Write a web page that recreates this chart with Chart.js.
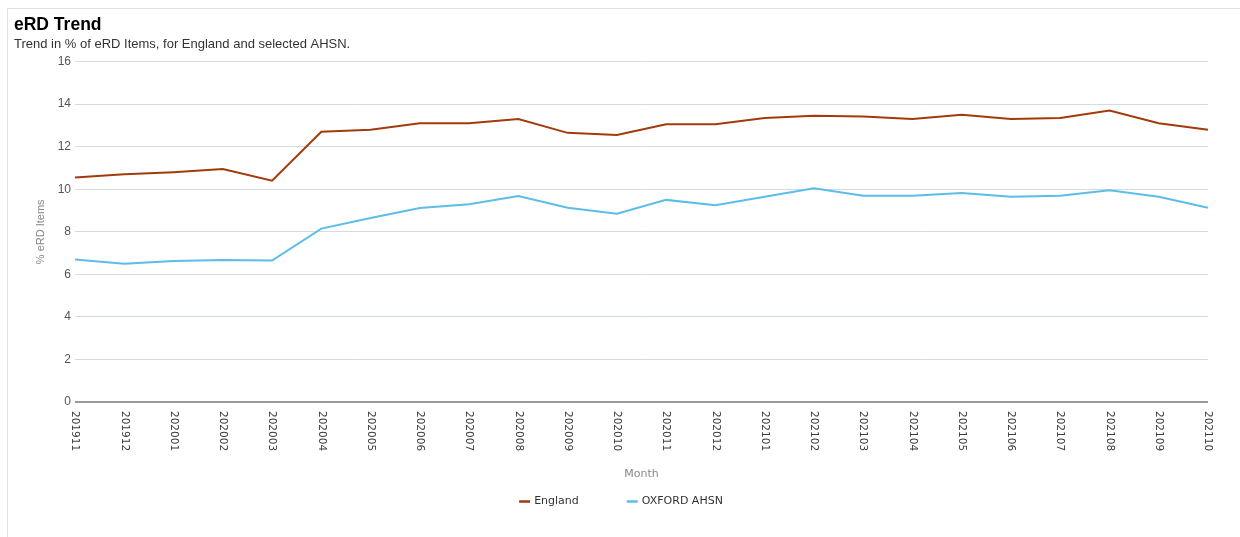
<!DOCTYPE html>
<html>
<head>
<meta charset="utf-8">
<script src="https://cdn.jsdelivr.net/npm/chart.js@4/dist/chart.umd.min.js"></script>
<style>
  html, body { margin: 0; padding: 0; background: #fff; }
  body { width: 1240px; height: 537px; overflow: hidden; position: relative; }
  #frame { position: absolute; left: 7px; top: 8px; width: 1233px; height: 529px;
           border-top: 1px solid #dde3ea; border-left: 1px solid #dde3ea; box-sizing: border-box; }
  #wrap { position: absolute; left: 0px; top: 0px; width: 1232px; height: 528px; }
</style>
</head>
<body>
<div id="frame"><div id="wrap"><canvas id="c"></canvas></div></div>
<script>
const months = ["201911","201912","202001","202002","202003","202004","202005","202006","202007","202008","202009","202010","202011","202012","202101","202102","202103","202104","202105","202106","202107","202108","202109","202110"];
const englandValues = [10.55,10.7,10.8,10.95,10.4,12.7,12.8,13.1,13.1,13.3,12.65,12.55,13.05,13.05,13.35,13.45,13.42,13.3,13.5,13.3,13.35,13.7,13.1,12.8];
const oxfordValues = [6.7,6.5,6.63,6.68,6.65,8.15,8.65,9.12,9.3,9.68,9.13,8.85,9.5,9.25,9.65,10.05,9.7,9.7,9.82,9.65,9.7,9.95,9.65,9.13];
const seriesNames = ["England","OXFORD AHSN"];
const seriesColors = ["#a23a0b","#5bbde8"];
const yTicks = [0,2,4,6,8,10,12,14,16];

const LABEL_FONT = '10.5px "DejaVu Sans", Verdana, sans-serif';
const LEGEND_FONT = '11px "DejaVu Sans", Tahoma, sans-serif';

const clockwiseLabels = {
  id: 'clockwiseLabels',
  afterDraw(chart) {
    const x = chart.scales.x;
    const ctx = chart.ctx;
    ctx.save();
    ctx.fillStyle = '#3c3c3c';
    ctx.font = LABEL_FONT;
    ctx.textAlign = 'left';
    ctx.textBaseline = 'middle';
    x.ticks.forEach((t, i) => {
      const px = x.getPixelForTick(i);
      ctx.save();
      ctx.translate(px, x.top + 9);
      ctx.rotate(Math.PI / 2);
      ctx.fillText(months[i], 0, 0);
      ctx.restore();
    });
    ctx.restore();
  }
};

const bottomLegend = {
  id: 'bottomLegend',
  afterDraw(chart) {
    const ctx = chart.ctx;
    ctx.save();
    ctx.font = LEGEND_FONT;
    ctx.textBaseline = 'middle';
    ctx.textAlign = 'left';
    const markW = 11, gapMark = 4, gapItem = 48;
    const items = chart.data.datasets.map(d => ({ text: d.label, color: d.borderColor, w: ctx.measureText(d.label).width }));
    let total = 0;
    items.forEach((it, i) => { total += markW + gapMark + it.w + (i < items.length - 1 ? gapItem : 0); });
    let x = chart.width / 2 - total / 2 - 3;
    const y = chart.height - 36;
    items.forEach(it => {
      ctx.strokeStyle = it.color;
      ctx.lineWidth = 2.5;
      ctx.beginPath();
      ctx.moveTo(x, y + 0.5);
      ctx.lineTo(x + markW, y + 0.5);
      ctx.stroke();
      x += markW + gapMark;
      ctx.fillStyle = '#333';
      ctx.fillText(it.text, x, y);
      x += it.w + gapItem;
    });
    ctx.restore();
  }
};

new Chart(document.getElementById('c'), {
  type: 'line',
  data: {
    labels: months,
    datasets: [
      { label: seriesNames[0], data: englandValues, borderColor: seriesColors[0], backgroundColor: seriesColors[0],
        borderWidth: 2, pointRadius: 0, pointHoverRadius: 0, tension: 0, fill: false },
      { label: seriesNames[1], data: oxfordValues, borderColor: seriesColors[1], backgroundColor: seriesColors[1],
        borderWidth: 2, pointRadius: 0, pointHoverRadius: 0, tension: 0, fill: false }
    ]
  },
  options: {
    responsive: true,
    maintainAspectRatio: false,
    animation: false,
    layout: { padding: { left: 6, right: 32, top: 5, bottom: 50 } },
    plugins: {
      title: { display: true, text: 'eRD Trend', align: 'start', color: '#000',
               font: { family: 'Arial, "Liberation Sans", sans-serif', size: 17.5, weight: 'bold' },
               padding: { top: 1, bottom: 0 } },
      subtitle: { display: true, text: 'Trend in % of eRD Items, for England and selected AHSN.', align: 'start', color: '#333',
               font: { family: 'Arial, "Liberation Sans", sans-serif', size: 13 },
               padding: { top: 1, bottom: 9 } },
      legend: { display: false },
      tooltip: { enabled: false }
    },
    scales: {
      x: {
        offset: false,
        grid: { display: false },
        border: { display: false },
        ticks: { color: 'transparent', minRotation: 90, maxRotation: 90, autoSkip: false,
                 font: { size: 10.5, family: '"DejaVu Sans", Verdana, sans-serif' }, padding: 8 },
        title: { display: true, text: 'Month', color: '#888',
                 font: { family: '"DejaVu Sans", Tahoma, sans-serif', size: 11 }, padding: { top: 10, bottom: 6 } },
        afterFit(s) { s.height = 85; }
      },
      y: {
        min: 0, max: 16,
        afterBuildTicks(s) { s.ticks = yTicks.map(v => ({ value: v })); },
        grid: { drawTicks: false,
                color: c => (c.tick && c.tick.value === 0) ? '#9a9a9a' : '#d3dbe3',
                lineWidth: c => (c.tick && c.tick.value === 0) ? 2 : 1 },
        border: { display: false },
        ticks: { color: '#555', padding: 4, font: { family: 'Arial, "Liberation Sans", sans-serif', size: 12 } },
        title: { display: true, text: '% eRD Items', color: '#888',
                 font: { family: 'Arial, "Liberation Sans", sans-serif', size: 11 }, padding: { top: 20, bottom: 0 } },
        afterFit(s) { s.width = 61; }
      }
    }
  },
  plugins: [clockwiseLabels, bottomLegend]
});
</script>
</body>
</html>
